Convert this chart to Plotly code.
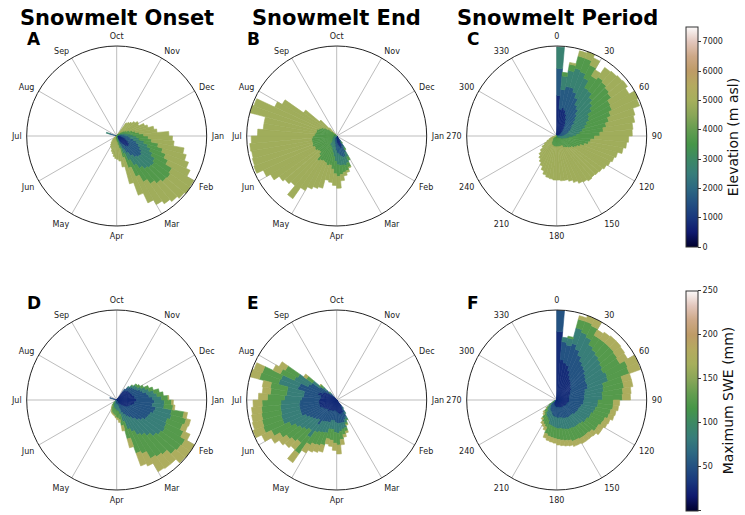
import plotly.graph_objects as go

# ---------------- data ----------------
MONTHS = ["Oct", "Nov", "Dec", "Jan", "Feb", "Mar", "Apr", "May", "Jun", "Jul", "Aug", "Sep"]
DEG_LABELS = ["0", "30", "60", "90", "120", "150", "180", "210", "240", "270", "300", "330"]
TICK_ANGLES = [0, 30, 60, 90, 120, 150, 180, 210, 240, 270, 300, 330]

# class values (colour of each stacked layer)
ELEV_CLASSES = [800, 1700, 2700, 3700, 4900]        # m asl
SWE_CLASSES = [28, 52, 85, 125, 175]                # mm
ELEV_TICKS = [0, 1000, 2000, 3000, 4000, 5000, 6000, 7000]
SWE_TICKS = [0, 50, 100, 150, 200, 250]

# Panel A: snowmelt onset, by elevation (bin start angle, layer lengths)
A_theta = [35, 40, 45, 50, 55, 60, 65, 70, 75, 80, 85, 90, 95, 100, 105, 110, 115, 120, 125, 130,
           135, 140, 145, 150, 155, 160, 165, 170, 175, 180, 185, 190, 195, 200, 205, 210, 215,
           220, 225, 230, 285]
A_r = [[0, 0, 0, 3, 15], [0, 0, 0, 4, 16], [0, 0, 2, 4, 16], [0, 1, 2, 5, 17], [0, 2, 3, 5, 18],
       [1, 2, 3, 6, 15], [1, 3, 4, 7, 18], [2, 3, 5, 8, 18], [2, 4, 6, 9, 21], [3, 5, 7, 10, 20],
       [4, 6, 8, 12, 28], [5, 8, 9, 13, 27], [6, 9, 10, 14, 25], [8, 11, 12, 16, 29],
       [10, 13, 13, 17, 27], [12, 14, 14, 18, 27], [14, 15, 15, 19, 27], [16, 16, 17, 22, 28],
       [17, 17, 17, 22, 27], [17, 16, 17, 22, 26], [15, 16, 17, 21, 26], [12, 15, 17, 21, 27],
       [9, 13, 16, 21, 29], [6, 10, 14, 20, 32], [3, 7, 11, 17, 32], [1, 4, 8, 12, 30],
       [0, 2, 4, 8, 21], [0, 1, 3, 6, 18], [0, 0, 2, 5, 19], [0, 0, 2, 4, 19], [0, 0, 1, 4, 18],
       [0, 0, 1, 3, 16], [0, 0, 1, 3, 14], [0, 0, 1, 3, 11], [0, 0, 1, 2, 11], [0, 0, 1, 2, 9],
       [0, 0, 0, 2, 8], [0, 0, 0, 2, 6], [0, 0, 0, 1, 5], [0, 0, 0, 1, 3], [2, 6, 4, 0, 0]]

# Panel B: snowmelt end, by elevation
B_theta = [140, 145, 150, 155, 160, 165, 170, 175, 180, 185, 190, 195, 200, 205, 210, 215, 220,
           225, 230, 235, 240, 245, 250, 255, 260, 265, 270, 275, 280, 285, 290, 295, 300, 305,
           310, 315]
B_r = [[4, 3, 2, 1, 0], [8, 5, 3, 2, 0], [12, 8, 6, 4, 0], [14, 10, 8, 5, 1], [14, 11, 9, 6, 2],
       [12, 11, 10, 8, 4], [10, 11, 12, 10, 7], [8, 11, 13, 13, 13], [6, 10, 12, 14, 13],
       [4, 8, 11, 14, 15], [3, 6, 10, 14, 17], [2, 5, 9, 18, 26], [2, 4, 8, 18, 30],
       [1, 4, 8, 18, 34], [1, 3, 8, 20, 38], [1, 3, 8, 22, 51], [0, 2, 6, 20, 44],
       [0, 2, 5, 18, 50], [0, 1, 5, 20, 52], [0, 1, 5, 22, 57], [0, 1, 4, 22, 63],
       [0, 1, 4, 24, 69], [0, 0, 4, 24, 69], [0, 0, 4, 24, 68], [0, 0, 4, 24, 69],
       [0, 0, 4, 23, 68], [0, 0, 3, 22, 63], [0, 0, 3, 21, 58], [0, 0, 3, 20, 59],
       [0, 0, 3, 20, 77], [0, 0, 3, 18, 77], [0, 0, 3, 16, 57], [0, 0, 2, 14, 54],
       [0, 0, 2, 10, 33], [0, 0, 1, 6, 18], [0, 0, 0, 3, 9]]

# Panel C: snowmelt period (days), by elevation
C_theta = [0, 5, 10, 15, 20, 25, 30, 35, 40, 45, 50, 55, 60, 65, 70, 75, 80, 85, 90, 95, 100,
           105, 110, 115, 120, 125, 130, 135, 140, 145, 150, 155, 160, 165, 170, 175, 180, 185,
           190, 195, 200, 205, 210, 215, 220, 225, 230, 235, 240, 245, 250, 255, 260]
C_r = [[45, 30, 24, 0, 0], [30, 22, 15, 4, 0], [32, 24, 18, 7, 2], [30, 26, 22, 14, 6],
       [26, 26, 24, 16, 8], [22, 25, 24, 16, 9], [18, 22, 22, 15, 8], [15, 22, 24, 19, 13],
       [12, 20, 24, 22, 16], [10, 18, 24, 24, 19], [8, 16, 24, 26, 22], [6, 14, 22, 27, 24],
       [5, 13, 22, 28, 32], [4, 12, 20, 28, 34], [3, 11, 19, 27, 30], [2, 10, 17, 27, 32],
       [2, 8, 16, 26, 33], [1, 7, 14, 26, 36], [1, 5, 12, 24, 38], [0, 4, 10, 24, 40],
       [0, 3, 9, 24, 39], [0, 2, 8, 22, 38], [0, 1, 7, 20, 40], [0, 1, 6, 18, 41],
       [0, 1, 5, 17, 41], [0, 0, 4, 16, 42], [0, 0, 4, 15, 42], [0, 0, 3, 14, 43],
       [0, 0, 3, 13, 45], [0, 0, 3, 12, 44], [0, 0, 2, 10, 46], [0, 0, 2, 10, 43],
       [0, 0, 2, 10, 40], [0, 0, 2, 10, 38], [0, 0, 2, 10, 38], [0, 0, 2, 10, 37],
       [0, 0, 2, 10, 37], [0, 0, 2, 10, 36], [0, 0, 2, 10, 35], [0, 0, 2, 10, 33],
       [0, 0, 2, 9, 30], [0, 0, 2, 9, 26], [0, 0, 2, 8, 24], [0, 0, 2, 7, 22],
       [0, 0, 2, 5, 21], [0, 0, 1, 5, 18], [0, 0, 1, 4, 15], [0, 0, 1, 4, 11],
       [0, 0, 1, 3, 8], [0, 0, 1, 2, 6], [0, 0, 0, 2, 5], [0, 0, 0, 1, 4], [0, 0, 0, 1, 2]]

# Panel D: snowmelt onset, by maximum SWE
D_theta = [35, 40, 45, 50, 55, 60, 65, 70, 75, 80, 85, 90, 95, 100, 105, 110, 115, 120, 125, 130,
           135, 140, 145, 150, 155, 160, 165, 170, 175, 180, 185, 190, 195, 200, 205, 210, 215,
           220, 225, 285]
D_r = [[12, 3, 0, 0, 0], [14, 4, 2, 0, 0], [15, 5, 3, 1, 0], [16, 6, 4, 2, 0], [16, 7, 4, 3, 0],
       [17, 8, 5, 3, 0], [18, 10, 6, 4, 0], [18, 12, 7, 5, 0], [20, 14, 8, 6, 0], [20, 16, 9, 7, 0],
       [22, 18, 10, 7, 1], [22, 20, 11, 8, 2], [20, 20, 13, 10, 2], [20, 24, 18, 14, 4],
       [18, 25, 20, 17, 5], [16, 24, 20, 18, 6], [15, 24, 22, 21, 8], [14, 24, 24, 26, 12],
       [12, 23, 25, 27, 13], [10, 22, 25, 28, 14], [8, 20, 24, 27, 14], [6, 18, 24, 29, 16],
       [5, 16, 24, 30, 17], [4, 14, 21, 27, 15], [3, 12, 20, 28, 15], [2, 8, 15, 20, 10],
       [1, 5, 10, 13, 6], [1, 4, 8, 9, 3], [1, 4, 7, 8, 2], [1, 4, 7, 7, 1], [1, 3, 6, 7, 1],
       [1, 3, 6, 6, 1], [1, 3, 5, 6, 1], [1, 3, 5, 5, 1], [1, 2, 4, 5, 1], [0, 2, 4, 4, 1],
       [0, 2, 3, 3, 1], [0, 1, 3, 3, 0], [0, 1, 2, 2, 0], [3, 5, 0, 0, 0]]

# Panel E: snowmelt end, by maximum SWE
E_theta = [140, 145, 150, 155, 160, 165, 170, 175, 180, 185, 190, 195, 200, 205, 210, 215, 220,
           225, 230, 235, 240, 245, 250, 255, 260, 265, 270, 275, 280, 285, 290, 295, 300, 305,
           310, 315]
E_r = [[8, 3, 1, 0, 0], [12, 4, 2, 0, 0], [15, 6, 3, 1, 0], [16, 7, 4, 2, 1], [17, 9, 6, 4, 2],
       [16, 10, 7, 6, 3], [15, 11, 9, 9, 6], [14, 12, 11, 13, 10], [13, 12, 11, 12, 8],
       [12, 11, 10, 12, 7], [12, 11, 10, 11, 6], [13, 13, 12, 14, 8], [13, 13, 13, 15, 8],
       [13, 14, 13, 15, 9], [14, 14, 14, 16, 10], [16, 18, 17, 22, 12], [14, 15, 15, 18, 10],
       [15, 16, 16, 18, 10], [16, 17, 17, 18, 10], [17, 18, 18, 20, 11], [18, 20, 20, 22, 12],
       [20, 22, 22, 23, 12], [20, 22, 22, 22, 11], [20, 22, 21, 22, 11], [20, 22, 21, 21, 11],
       [20, 21, 21, 21, 10], [19, 20, 19, 19, 10], [18, 19, 19, 18, 9], [18, 19, 19, 19, 9],
       [22, 23, 22, 22, 11], [21, 23, 22, 22, 10], [17, 18, 17, 17, 9], [16, 17, 17, 16, 8],
       [12, 11, 10, 8, 4], [8, 7, 5, 4, 1], [5, 4, 2, 1, 0]]

# Panel F: snowmelt period (days), by maximum SWE
F_theta = [0, 5, 10, 15, 20, 25, 30, 35, 40, 45, 50, 55, 60, 65, 70, 75, 80, 85, 90, 95, 100,
           105, 110, 115, 120, 125, 130, 135, 140, 145, 150, 155, 160, 165, 170, 175, 180, 185,
           190, 195, 200, 205, 210, 215, 220, 225, 230, 235, 240, 245]
F_r = [[76, 24, 0, 0, 0], [45, 20, 5, 0, 0], [42, 20, 8, 2, 0], [40, 25, 18, 10, 4],
       [35, 25, 20, 13, 7], [30, 25, 22, 14, 9], [27, 23, 21, 12, 7], [25, 22, 21, 15, 9],
       [23, 22, 21, 17, 10], [21, 21, 22, 19, 10], [20, 20, 22, 20, 10], [18, 20, 22, 21, 10],
       [17, 21, 24, 25, 13], [16, 21, 24, 25, 13], [15, 18, 21, 22, 10], [14, 18, 21, 23, 10],
       [14, 17, 20, 23, 9], [14, 17, 20, 22, 9], [14, 16, 16, 17, 7], [14, 16, 16, 17, 6],
       [13, 15, 16, 17, 6], [12, 15, 16, 17, 6], [12, 14, 15, 16, 6], [12, 14, 15, 15, 6],
       [11, 14, 14, 15, 6], [11, 14, 14, 15, 6], [10, 13, 14, 14, 6], [10, 13, 13, 14, 6],
       [10, 13, 13, 14, 6], [10, 13, 13, 14, 6], [9, 13, 13, 14, 6], [9, 13, 13, 14, 6],
       [9, 12, 13, 13, 6], [8, 12, 13, 13, 6], [8, 12, 12, 13, 6], [8, 12, 12, 12, 6],
       [8, 11, 12, 12, 5], [8, 11, 11, 12, 5], [7, 11, 11, 12, 5], [7, 10, 11, 11, 5],
       [6, 9, 9, 8, 4], [6, 8, 8, 8, 3], [5, 8, 8, 7, 3], [5, 7, 7, 6, 2], [4, 6, 5, 5, 2],
       [4, 5, 5, 4, 2], [3, 4, 4, 3, 1], [2, 3, 3, 2, 0], [1, 2, 2, 1, 0], [1, 1, 1, 1, 0]]

BIN_WIDTH = 5

# ---------------- styling ----------------
EARTH = [
    [0.00, "rgb(0,0,45)"], [0.067, "rgb(15,25,110)"], [0.133, "rgb(25,55,125)"],
    [0.20, "rgb(35,80,130)"], [0.267, "rgb(45,105,130)"], [0.333, "rgb(55,125,122)"],
    [0.40, "rgb(60,137,100)"], [0.467, "rgb(70,150,72)"], [0.533, "rgb(100,157,80)"],
    [0.60, "rgb(138,166,88)"], [0.667, "rgb(166,175,92)"], [0.733, "rgb(180,170,95)"],
    [0.80, "rgb(190,155,102)"], [0.867, "rgb(205,168,135)"], [0.933, "rgb(226,198,188)"],
    [1.00, "rgb(252,250,250)"],
]

FONT = "DejaVu Sans"
W, H = 745, 515
R_PX = 90
centers = [(116.7, 136), (336.7, 136), (556.7, 136), (116.7, 400), (336.7, 400), (556.7, 400)]

panels = [
    (A_theta, A_r, ELEV_CLASSES, 7500, MONTHS, "elev"),
    (B_theta, B_r, ELEV_CLASSES, 7500, MONTHS, None),
    (C_theta, C_r, ELEV_CLASSES, 7500, DEG_LABELS, None),
    (D_theta, D_r, SWE_CLASSES, 250, MONTHS, "swe"),
    (E_theta, E_r, SWE_CLASSES, 250, MONTHS, None),
    (F_theta, F_r, SWE_CLASSES, 250, DEG_LABELS, None),
]


def colorbar_cfg(center_y, ticks, title):
    return dict(
        x=686 / W, xanchor="left", y=1 - center_y / H, yanchor="middle",
        len=220, lenmode="pixels", thickness=12, thicknessmode="pixels",
        xpad=0, ypad=0, outlinewidth=1, outlinecolor="#333",
        tickmode="array", tickvals=ticks, ticks="outside", ticklen=3,
        tickcolor="#333", tickfont=dict(family=FONT, size=8, color="#222"),
        title=dict(text=title, side="right", font=dict(family=FONT, size=14, color="#111")))


fig = go.Figure()
layout_polars = {}
for i, (theta, rows, classes, cmax, labels, cbar) in enumerate(panels):
    pid = "polar" if i == 0 else f"polar{i + 1}"
    for k, cval in enumerate(classes):
        cvals = [cval] * len(theta)
        marker = dict(color=cvals, colorscale=EARTH, cmin=0, cmax=cmax,
                      line=dict(width=0.6, color=cvals, colorscale=EARTH, cmin=0, cmax=cmax))
        if cbar is not None and k == 0:
            marker["showscale"] = True
            if cbar == "elev":
                marker["colorbar"] = colorbar_cfg(137, ELEV_TICKS, "Elevation (m asl)")
            else:
                marker["colorbar"] = colorbar_cfg(400.5, SWE_TICKS, "Maximum SWE (mm)")
        fig.add_trace(go.Barpolar(
            theta=[t + BIN_WIDTH / 2 for t in theta],
            r=[row[k] for row in rows],
            width=BIN_WIDTH,
            marker=marker,
            subplot=pid,
            showlegend=False,
            hoverinfo="skip",
        ))
    cx, cy = centers[i]
    layout_polars[pid] = dict(
        domain=dict(x=[(cx - R_PX) / W, (cx + R_PX) / W],
                    y=[1 - (cy + R_PX) / H, 1 - (cy - R_PX) / H]),
        bgcolor="white",
        barmode="stack",
        bargap=0,
        radialaxis=dict(visible=False, range=[0, 100]),
        angularaxis=dict(
            rotation=90, direction="clockwise",
            tickmode="array", tickvals=TICK_ANGLES, ticktext=labels,
            showline=True, linecolor="#222", linewidth=1,
            showgrid=True, gridcolor="#bdbdbd", gridwidth=1,
            ticks="outside", ticklen=3, tickcolor="rgba(0,0,0,0)",
            tickfont=dict(family=FONT, size=8, color="#222"),
            layer="above traces",
        ),
    )

annotations = []
for text, cx in [("Snowmelt Onset", 116.7), ("Snowmelt End", 336.7), ("Snowmelt Period", 557)]:
    annotations.append(dict(text=f"<b>{text}</b>", x=cx / W, y=1 - 18 / H, xref="paper",
                            yref="paper", xanchor="center", yanchor="middle", showarrow=False,
                            font=dict(family=FONT, size=21, color="black")))
for letter, lx, ly in [("A", 25, 39), ("B", 245, 39), ("C", 465, 39),
                       ("D", 25, 303), ("E", 245, 303), ("F", 465, 303)]:
    annotations.append(dict(text=f"<b>{letter}</b>", x=lx / W, y=1 - ly / H, xref="paper",
                            yref="paper", xanchor="left", yanchor="middle", showarrow=False,
                            font=dict(family=FONT, size=17, color="black")))

fig.update_layout(
    width=W, height=H,
    margin=dict(l=0, r=0, t=0, b=0, autoexpand=False),
    paper_bgcolor="white",
    font=dict(family=FONT),
    annotations=annotations,
    **layout_polars,
)

fig.write_html("out.html", config={"displayModeBar": False},
               post_script="document.body.style.margin='0px';")
